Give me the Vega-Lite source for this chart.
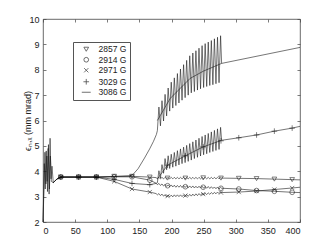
{
  "$schema": "https://vega.github.io/schema/vega-lite/v6.json",
  "width": 257,
  "height": 203,
  "autosize": {"type": "none"},
  "padding": {"left": 43, "top": 19, "right": 32, "bottom": 27},
  "config": {
    "font": "Liberation Sans",
    "view": {"stroke": "#444", "strokeWidth": 0.8},
    "axis": {"grid": false, "domain": false, "tickSize": -3, "tickColor": "#444", "tickWidth": 0.7, "labelFont": "Liberation Sans", "labelFontSize": 9, "labelColor": "#222", "titleFont": "Liberation Sans", "titleFontSize": 9, "titleFontWeight": "normal", "titleColor": "#222"}
  },
  "datasets": {
    "curves": [
      {"s":"3086 G","x":0,"y":2.0},{"s":"3086 G","x":1.5,"y":3.3},{"s":"3086 G","x":3,"y":4.75},{"s":"3086 G","x":4.5,"y":3.5},{"s":"3086 G","x":6,"y":4.6},{"s":"3086 G","x":7,"y":3.2},{"s":"3086 G","x":8.5,"y":5.05},{"s":"3086 G","x":9.5,"y":3.1},{"s":"3086 G","x":11,"y":5.3},{"s":"3086 G","x":12.5,"y":3.7},{"s":"3086 G","x":14,"y":4.2},{"s":"3086 G","x":16,"y":3.55},{"s":"3086 G","x":18,"y":3.6},{"s":"3086 G","x":22,"y":3.7},{"s":"3086 G","x":27.7,"y":3.77},{"s":"3086 G","x":55.4,"y":3.77},{"s":"3086 G","x":83.1,"y":3.77},{"s":"3086 G","x":110.8,"y":3.79},{"s":"3086 G","x":138.5,"y":3.83},{"s":"3086 G","x":148,"y":4.1},{"s":"3086 G","x":158,"y":4.52},{"s":"3086 G","x":166,"y":4.88},{"s":"3086 G","x":172,"y":5.18},{"s":"3086 G","x":176.5,"y":5.45},
      {"s":"3086 G","x":178,"y":5.6},{"s":"3086 G","x":180.4,"y":6.53},{"s":"3086 G","x":182.8,"y":5.79},{"s":"3086 G","x":185.2,"y":6.78},{"s":"3086 G","x":187.6,"y":5.98},{"s":"3086 G","x":190,"y":7.03},{"s":"3086 G","x":192.4,"y":6.18},{"s":"3086 G","x":194.8,"y":7.28},{"s":"3086 G","x":197.2,"y":6.37},{"s":"3086 G","x":199.6,"y":7.51},{"s":"3086 G","x":202,"y":6.49},{"s":"3086 G","x":204.4,"y":7.68},{"s":"3086 G","x":206.8,"y":6.59},{"s":"3086 G","x":209.2,"y":7.85},{"s":"3086 G","x":211.6,"y":6.69},{"s":"3086 G","x":214,"y":8.03},{"s":"3086 G","x":216.4,"y":6.8},{"s":"3086 G","x":218.8,"y":8.2},{"s":"3086 G","x":221.2,"y":6.9},{"s":"3086 G","x":223.6,"y":8.37},{"s":"3086 G","x":226,"y":7.0},{"s":"3086 G","x":228.4,"y":8.55},{"s":"3086 G","x":230.8,"y":7.09},{"s":"3086 G","x":233.2,"y":8.66},{"s":"3086 G","x":235.6,"y":7.14},{"s":"3086 G","x":238,"y":8.75},{"s":"3086 G","x":240.4,"y":7.2},{"s":"3086 G","x":242.8,"y":8.85},{"s":"3086 G","x":245.2,"y":7.25},{"s":"3086 G","x":247.6,"y":8.95},{"s":"3086 G","x":250,"y":7.3},{"s":"3086 G","x":252.4,"y":9.03},{"s":"3086 G","x":254.8,"y":7.34},{"s":"3086 G","x":257.2,"y":9.09},{"s":"3086 G","x":259.6,"y":7.38},{"s":"3086 G","x":262,"y":9.15},{"s":"3086 G","x":264.4,"y":7.41},{"s":"3086 G","x":266.8,"y":9.22},{"s":"3086 G","x":269.2,"y":7.45},{"s":"3086 G","x":271.6,"y":9.28},{"s":"3086 G","x":274,"y":7.49},{"s":"3086 G","x":276.4,"y":9.34},{"s":"3086 G","x":278,"y":8.25},{"s":"3086 G","x":400,"y":8.88},
      {"s":"3086 G mean","x":178,"y":6.0},{"s":"3086 G mean","x":198,"y":6.87},{"s":"3086 G mean","x":229,"y":7.66},{"s":"3086 G mean","x":250,"y":7.95},{"s":"3086 G mean","x":278,"y":8.25},

      {"s":"3029 G","x":0,"y":2.0},{"s":"3029 G","x":2,"y":4.3},{"s":"3029 G","x":3.5,"y":3.3},{"s":"3029 G","x":5,"y":4.8},{"s":"3029 G","x":6.5,"y":3.6},{"s":"3029 G","x":8,"y":4.9},{"s":"3029 G","x":10,"y":3.3},{"s":"3029 G","x":11.5,"y":4.6},{"s":"3029 G","x":13,"y":3.6},{"s":"3029 G","x":16,"y":3.55},{"s":"3029 G","x":18,"y":3.6},{"s":"3029 G","x":22,"y":3.7},{"s":"3029 G","x":27.7,"y":3.77},{"s":"3029 G","x":55.4,"y":3.77},{"s":"3029 G","x":83.1,"y":3.77},{"s":"3029 G","x":110.8,"y":3.68},{"s":"3029 G","x":138.5,"y":3.52},{"s":"3029 G","x":166.2,"y":3.47},{"s":"3029 G","x":176,"y":3.52},
      {"s":"3029 G","x":178,"y":3.55},{"s":"3029 G","x":180.4,"y":4.02},{"s":"3029 G","x":182.8,"y":3.73},{"s":"3029 G","x":185.2,"y":4.26},{"s":"3029 G","x":187.6,"y":3.92},{"s":"3029 G","x":190,"y":4.5},{"s":"3029 G","x":192.4,"y":4.06},{"s":"3029 G","x":194.8,"y":4.61},{"s":"3029 G","x":197.2,"y":4.11},{"s":"3029 G","x":199.6,"y":4.67},{"s":"3029 G","x":202,"y":4.16},{"s":"3029 G","x":204.4,"y":4.74},{"s":"3029 G","x":206.8,"y":4.2},{"s":"3029 G","x":209.2,"y":4.81},{"s":"3029 G","x":211.6,"y":4.25},{"s":"3029 G","x":214,"y":4.88},{"s":"3029 G","x":216.4,"y":4.3},{"s":"3029 G","x":218.8,"y":4.95},{"s":"3029 G","x":221.2,"y":4.34},{"s":"3029 G","x":223.6,"y":5.02},{"s":"3029 G","x":226,"y":4.39},{"s":"3029 G","x":228.4,"y":5.09},{"s":"3029 G","x":230.8,"y":4.44},{"s":"3029 G","x":233.2,"y":5.16},{"s":"3029 G","x":235.6,"y":4.5},{"s":"3029 G","x":238,"y":5.23},{"s":"3029 G","x":240.4,"y":4.55},{"s":"3029 G","x":242.8,"y":5.3},{"s":"3029 G","x":245.2,"y":4.6},{"s":"3029 G","x":247.6,"y":5.37},{"s":"3029 G","x":250,"y":4.65},{"s":"3029 G","x":252.4,"y":5.43},{"s":"3029 G","x":254.8,"y":4.69},{"s":"3029 G","x":257.2,"y":5.49},{"s":"3029 G","x":259.6,"y":4.74},{"s":"3029 G","x":262,"y":5.55},{"s":"3029 G","x":264.4,"y":4.78},{"s":"3029 G","x":266.8,"y":5.61},{"s":"3029 G","x":269.2,"y":4.82},{"s":"3029 G","x":271.6,"y":5.67},{"s":"3029 G","x":274,"y":4.86},{"s":"3029 G","x":276.4,"y":5.73},{"s":"3029 G","x":278,"y":5.22},{"s":"3029 G","x":304.7,"y":5.32},{"s":"3029 G","x":332.4,"y":5.43},{"s":"3029 G","x":360.1,"y":5.58},{"s":"3029 G","x":387.8,"y":5.7},{"s":"3029 G","x":400,"y":5.77},
      {"s":"3029 G mean","x":178,"y":3.7},{"s":"3029 G mean","x":193.9,"y":4.24},{"s":"3029 G mean","x":221.6,"y":4.61},{"s":"3029 G mean","x":249.3,"y":4.96},{"s":"3029 G mean","x":278,"y":5.22},

      {"s":"2857 G","x":16,"y":3.55},{"s":"2857 G","x":18,"y":3.6},{"s":"2857 G","x":22,"y":3.7},{"s":"2857 G","x":27.7,"y":3.77},{"s":"2857 G","x":55.4,"y":3.77},{"s":"2857 G","x":83.1,"y":3.77},{"s":"2857 G","x":110.8,"y":3.8},{"s":"2857 G","x":138.5,"y":3.8},{"s":"2857 G","x":166.2,"y":3.77},{"s":"2857 G","x":176,"y":3.75},
      {"s":"2857 G","x":178,"y":3.7},{"s":"2857 G","x":180.4,"y":3.76},{"s":"2857 G","x":182.8,"y":3.7},{"s":"2857 G","x":185.2,"y":3.76},{"s":"2857 G","x":187.6,"y":3.7},{"s":"2857 G","x":190,"y":3.76},{"s":"2857 G","x":192.4,"y":3.7},{"s":"2857 G","x":194.8,"y":3.76},{"s":"2857 G","x":197.2,"y":3.7},{"s":"2857 G","x":199.6,"y":3.76},{"s":"2857 G","x":202,"y":3.7},{"s":"2857 G","x":204.4,"y":3.76},{"s":"2857 G","x":206.8,"y":3.7},{"s":"2857 G","x":209.2,"y":3.76},{"s":"2857 G","x":211.6,"y":3.7},{"s":"2857 G","x":214,"y":3.76},{"s":"2857 G","x":216.4,"y":3.7},{"s":"2857 G","x":218.8,"y":3.76},{"s":"2857 G","x":221.2,"y":3.7},{"s":"2857 G","x":223.6,"y":3.76},{"s":"2857 G","x":226,"y":3.7},{"s":"2857 G","x":228.4,"y":3.76},{"s":"2857 G","x":230.8,"y":3.7},{"s":"2857 G","x":233.2,"y":3.76},{"s":"2857 G","x":235.6,"y":3.7},{"s":"2857 G","x":238,"y":3.76},{"s":"2857 G","x":240.4,"y":3.7},{"s":"2857 G","x":242.8,"y":3.76},{"s":"2857 G","x":245.2,"y":3.7},{"s":"2857 G","x":247.6,"y":3.76},{"s":"2857 G","x":250,"y":3.7},{"s":"2857 G","x":252.4,"y":3.76},{"s":"2857 G","x":254.8,"y":3.7},{"s":"2857 G","x":257.2,"y":3.76},{"s":"2857 G","x":259.6,"y":3.7},{"s":"2857 G","x":262,"y":3.76},{"s":"2857 G","x":264.4,"y":3.7},{"s":"2857 G","x":266.8,"y":3.76},{"s":"2857 G","x":269.2,"y":3.7},{"s":"2857 G","x":271.6,"y":3.76},{"s":"2857 G","x":274,"y":3.7},{"s":"2857 G","x":276.4,"y":3.76},{"s":"2857 G","x":278,"y":3.73},{"s":"2857 G","x":304.7,"y":3.72},{"s":"2857 G","x":332.4,"y":3.71},{"s":"2857 G","x":360.1,"y":3.69},{"s":"2857 G","x":387.8,"y":3.67},{"s":"2857 G","x":400,"y":3.66},

      {"s":"2914 G","x":16,"y":3.55},{"s":"2914 G","x":18,"y":3.6},{"s":"2914 G","x":22,"y":3.7},{"s":"2914 G","x":27.7,"y":3.77},{"s":"2914 G","x":55.4,"y":3.77},{"s":"2914 G","x":83.1,"y":3.77},{"s":"2914 G","x":110.8,"y":3.78},{"s":"2914 G","x":138.5,"y":3.78},{"s":"2914 G","x":166.2,"y":3.65},{"s":"2914 G","x":176,"y":3.53},
      {"s":"2914 G","x":178,"y":3.47},{"s":"2914 G","x":180.4,"y":3.52},{"s":"2914 G","x":182.8,"y":3.44},{"s":"2914 G","x":185.2,"y":3.5},{"s":"2914 G","x":187.6,"y":3.42},{"s":"2914 G","x":190,"y":3.48},{"s":"2914 G","x":192.4,"y":3.4},{"s":"2914 G","x":194.8,"y":3.46},{"s":"2914 G","x":197.2,"y":3.39},{"s":"2914 G","x":199.6,"y":3.46},{"s":"2914 G","x":202,"y":3.38},{"s":"2914 G","x":204.4,"y":3.45},{"s":"2914 G","x":206.8,"y":3.37},{"s":"2914 G","x":209.2,"y":3.44},{"s":"2914 G","x":211.6,"y":3.37},{"s":"2914 G","x":214,"y":3.44},{"s":"2914 G","x":216.4,"y":3.36},{"s":"2914 G","x":218.8,"y":3.43},{"s":"2914 G","x":221.2,"y":3.36},{"s":"2914 G","x":223.6,"y":3.43},{"s":"2914 G","x":226,"y":3.35},{"s":"2914 G","x":228.4,"y":3.42},{"s":"2914 G","x":230.8,"y":3.35},{"s":"2914 G","x":233.2,"y":3.42},{"s":"2914 G","x":235.6,"y":3.34},{"s":"2914 G","x":238,"y":3.41},{"s":"2914 G","x":240.4,"y":3.34},{"s":"2914 G","x":242.8,"y":3.41},{"s":"2914 G","x":245.2,"y":3.34},{"s":"2914 G","x":247.6,"y":3.41},{"s":"2914 G","x":250,"y":3.33},{"s":"2914 G","x":252.4,"y":3.4},{"s":"2914 G","x":254.8,"y":3.33},{"s":"2914 G","x":257.2,"y":3.4},{"s":"2914 G","x":259.6,"y":3.32},{"s":"2914 G","x":262,"y":3.39},{"s":"2914 G","x":264.4,"y":3.32},{"s":"2914 G","x":266.8,"y":3.38},{"s":"2914 G","x":269.2,"y":3.31},{"s":"2914 G","x":271.6,"y":3.38},{"s":"2914 G","x":274,"y":3.3},{"s":"2914 G","x":276.4,"y":3.37},{"s":"2914 G","x":278,"y":3.33},{"s":"2914 G","x":304.7,"y":3.3},{"s":"2914 G","x":332.4,"y":3.24},{"s":"2914 G","x":360.1,"y":3.21},{"s":"2914 G","x":387.8,"y":3.17},{"s":"2914 G","x":400,"y":3.16},

      {"s":"2971 G","x":16,"y":3.55},{"s":"2971 G","x":18,"y":3.6},{"s":"2971 G","x":22,"y":3.7},{"s":"2971 G","x":27.7,"y":3.77},{"s":"2971 G","x":55.4,"y":3.77},{"s":"2971 G","x":83.1,"y":3.77},{"s":"2971 G","x":110.8,"y":3.6},{"s":"2971 G","x":138.5,"y":3.3},{"s":"2971 G","x":166.2,"y":3.18},{"s":"2971 G","x":176,"y":3.12},
      {"s":"2971 G","x":178,"y":3.07},{"s":"2971 G","x":180.4,"y":3.12},{"s":"2971 G","x":182.8,"y":3.04},{"s":"2971 G","x":185.2,"y":3.1},{"s":"2971 G","x":187.6,"y":3.02},{"s":"2971 G","x":190,"y":3.07},{"s":"2971 G","x":192.4,"y":2.99},{"s":"2971 G","x":194.8,"y":3.06},{"s":"2971 G","x":197.2,"y":2.99},{"s":"2971 G","x":199.6,"y":3.06},{"s":"2971 G","x":202,"y":2.99},{"s":"2971 G","x":204.4,"y":3.07},{"s":"2971 G","x":206.8,"y":3.0},{"s":"2971 G","x":209.2,"y":3.07},{"s":"2971 G","x":211.6,"y":3.0},{"s":"2971 G","x":214,"y":3.07},{"s":"2971 G","x":216.4,"y":3.0},{"s":"2971 G","x":218.8,"y":3.07},{"s":"2971 G","x":221.2,"y":3.0},{"s":"2971 G","x":223.6,"y":3.08},{"s":"2971 G","x":226,"y":3.01},{"s":"2971 G","x":228.4,"y":3.09},{"s":"2971 G","x":230.8,"y":3.02},{"s":"2971 G","x":233.2,"y":3.1},{"s":"2971 G","x":235.6,"y":3.03},{"s":"2971 G","x":238,"y":3.11},{"s":"2971 G","x":240.4,"y":3.04},{"s":"2971 G","x":242.8,"y":3.12},{"s":"2971 G","x":245.2,"y":3.05},{"s":"2971 G","x":247.6,"y":3.13},{"s":"2971 G","x":250,"y":3.06},{"s":"2971 G","x":252.4,"y":3.14},{"s":"2971 G","x":254.8,"y":3.08},{"s":"2971 G","x":257.2,"y":3.15},{"s":"2971 G","x":259.6,"y":3.09},{"s":"2971 G","x":262,"y":3.16},{"s":"2971 G","x":264.4,"y":3.1},{"s":"2971 G","x":266.8,"y":3.17},{"s":"2971 G","x":269.2,"y":3.11},{"s":"2971 G","x":271.6,"y":3.18},{"s":"2971 G","x":274,"y":3.12},{"s":"2971 G","x":276.4,"y":3.19},{"s":"2971 G","x":278,"y":3.16},{"s":"2971 G","x":304.7,"y":3.18},{"s":"2971 G","x":332.4,"y":3.22},{"s":"2971 G","x":360.1,"y":3.28},{"s":"2971 G","x":387.8,"y":3.34},{"s":"2971 G","x":400,"y":3.37}
    ],
    "markers": [
      {"s":"2857 G","x":27.7,"y":3.77},{"s":"2857 G","x":55.4,"y":3.77},{"s":"2857 G","x":83.1,"y":3.77},{"s":"2857 G","x":110.8,"y":3.8},{"s":"2857 G","x":138.5,"y":3.8},{"s":"2857 G","x":166.2,"y":3.77},{"s":"2857 G","x":193.9,"y":3.73},{"s":"2857 G","x":221.6,"y":3.73},{"s":"2857 G","x":249.3,"y":3.74},{"s":"2857 G","x":277,"y":3.73},{"s":"2857 G","x":304.7,"y":3.72},{"s":"2857 G","x":332.4,"y":3.71},{"s":"2857 G","x":360.1,"y":3.69},{"s":"2857 G","x":387.8,"y":3.67},
      {"s":"2914 G","x":27.7,"y":3.77},{"s":"2914 G","x":55.4,"y":3.77},{"s":"2914 G","x":83.1,"y":3.77},{"s":"2914 G","x":110.8,"y":3.78},{"s":"2914 G","x":138.5,"y":3.78},{"s":"2914 G","x":166.2,"y":3.65},{"s":"2914 G","x":193.9,"y":3.43},{"s":"2914 G","x":221.6,"y":3.39},{"s":"2914 G","x":249.3,"y":3.37},{"s":"2914 G","x":277,"y":3.33},{"s":"2914 G","x":304.7,"y":3.3},{"s":"2914 G","x":332.4,"y":3.24},{"s":"2914 G","x":360.1,"y":3.21},{"s":"2914 G","x":387.8,"y":3.17},
      {"s":"2971 G","x":27.7,"y":3.77},{"s":"2971 G","x":55.4,"y":3.77},{"s":"2971 G","x":83.1,"y":3.77},{"s":"2971 G","x":110.8,"y":3.6},{"s":"2971 G","x":138.5,"y":3.3},{"s":"2971 G","x":166.2,"y":3.18},{"s":"2971 G","x":193.9,"y":3.02},{"s":"2971 G","x":221.6,"y":3.04},{"s":"2971 G","x":249.3,"y":3.1},{"s":"2971 G","x":277,"y":3.16},{"s":"2971 G","x":304.7,"y":3.18},{"s":"2971 G","x":332.4,"y":3.22},{"s":"2971 G","x":360.1,"y":3.28},{"s":"2971 G","x":387.8,"y":3.34},
      {"s":"3029 G","x":27.7,"y":3.77},{"s":"3029 G","x":55.4,"y":3.77},{"s":"3029 G","x":83.1,"y":3.77},{"s":"3029 G","x":110.8,"y":3.68},{"s":"3029 G","x":138.5,"y":3.52},{"s":"3029 G","x":166.2,"y":3.47},{"s":"3029 G","x":193.9,"y":4.24},{"s":"3029 G","x":221.6,"y":4.61},{"s":"3029 G","x":249.3,"y":4.96},{"s":"3029 G","x":277,"y":5.2},{"s":"3029 G","x":304.7,"y":5.32},{"s":"3029 G","x":332.4,"y":5.43},{"s":"3029 G","x":360.1,"y":5.58},{"s":"3029 G","x":387.8,"y":5.7}
    ]
  },
  "layer": [
    {
      "data": {"name": "curves"},
      "mark": {"type": "line", "stroke": "#1a1a1a", "strokeWidth": 0.6},
      "encoding": {
        "x": {"field": "x", "type": "quantitative", "scale": {"domain": [0, 400], "nice": false, "zero": false}, "axis": {"orient": "bottom", "values": [0,50,100,150,200,250,300,350,400], "title": null, "labelPadding": 7}},
        "y": {"field": "y", "type": "quantitative", "scale": {"domain": [2, 10], "nice": false, "zero": false}, "axis": {"orient": "left", "values": [2,3,4,5,6,7,8,9,10], "title": "ϵₙ,ₓ (mm mrad)", "labelPadding": 7, "titlePadding": -4}},
        "detail": {"field": "s"}
      }
    },
    {
      "data": {"name": "markers"},
      "mark": {"type": "point", "filled": false, "size": 22, "strokeWidth": 0.7, "color": "black"},
      "encoding": {
        "x": {"field": "x", "type": "quantitative", "axis": {"orient": "top", "values": [0,50,100,150,200,250,300,350,400], "labels": false, "title": null}},
        "y": {"field": "y", "type": "quantitative", "axis": {"orient": "right", "values": [2,3,4,5,6,7,8,9,10], "labels": false, "title": null}},
        "shape": {
          "field": "s", "type": "nominal",
          "scale": {"domain": ["2857 G","2914 G","2971 G","3029 G","3086 G"], "range": ["triangle-down","circle","M-0.9,-0.9L0.9,0.9M0.9,-0.9L-0.9,0.9","M0,-1.2L0,1.2M-1.2,0L1.2,0","M-1.9,0L1.9,0"]},
          "legend": {"orient": "none", "legendX": 30, "legendY": 23, "title": null, "strokeColor": "#555", "fillColor": "white", "padding": 3, "rowPadding": 1.5, "symbolOffset": 6, "labelOffset": 8, "labelFontSize": 8.5, "labelFont": "Liberation Sans", "labelColor": "#222", "symbolSize": 22, "symbolStrokeColor": "black", "symbolStrokeWidth": 0.8, "symbolFillColor": "transparent"}
        }
      }
    }
  ],
  "resolve": {"axis": {"x": "independent", "y": "independent"}}
}
